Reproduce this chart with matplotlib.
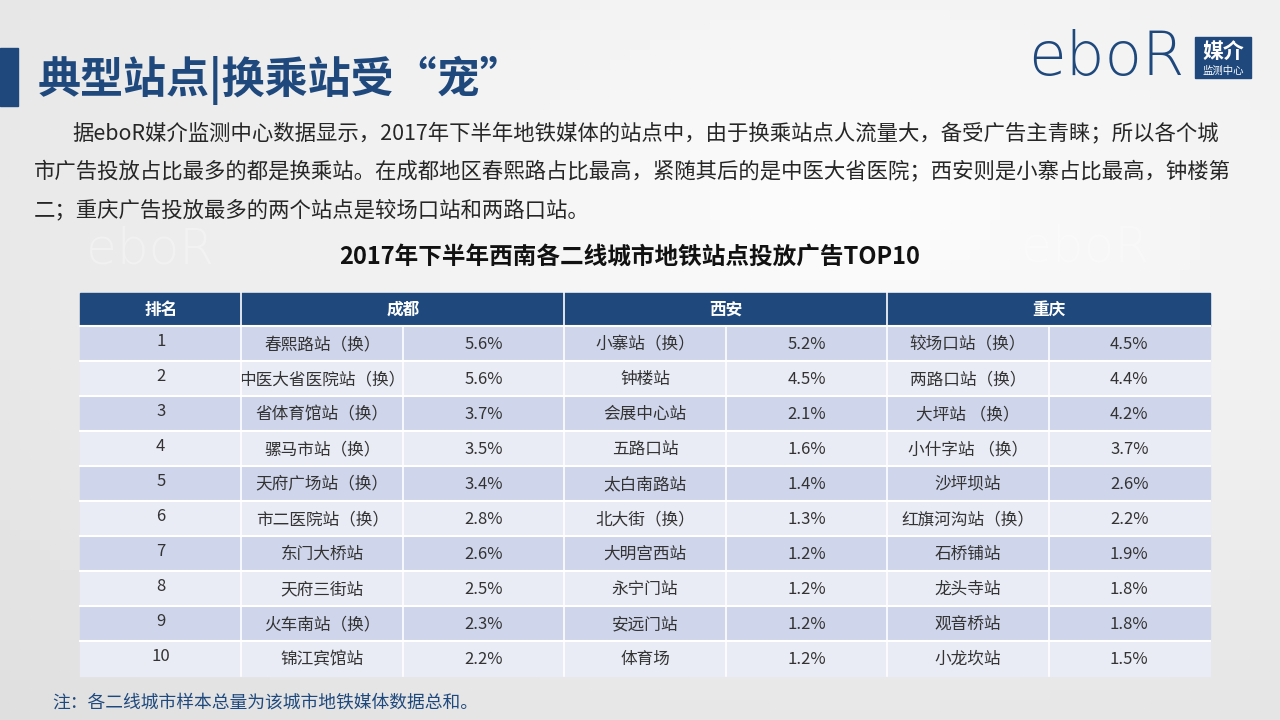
import numpy as np
import matplotlib
matplotlib.use('Agg')
import matplotlib.pyplot as plt
from matplotlib.patches import Rectangle

plt.rcParams['font.family'] = ['Noto Sans CJK SC', 'DejaVu Sans']

# 数据
title = '典型站点|换乘站受“宠”'
paragraph = [
    '据eboR媒介监测中心数据显示，2017年下半年地铁媒体的站点中，由于换乘站点人流量大，备受广告主青睐；所以各个城',
    '市广告投放占比最多的都是换乘站。在成都地区春熙路占比最高，紧随其后的是中医大省医院；西安则是小寨占比最高，钟楼第',
    '二；重庆广告投放最多的两个站点是较场口站和两路口站。',
]
table_title = '2017年下半年西南各二线城市地铁站点投放广告TOP10'
cities = ['成都', '西安', '重庆']
ranks = ['1', '2', '3', '4', '5', '6', '7', '8', '9', '10']
chengdu_stations = ['春熙路站（换）', '中医大省医院站（换）', '省体育馆站（换）', '骡马市站（换）', '天府广场站（换）',
                    '市二医院站（换）', '东门大桥站', '天府三街站', '火车南站（换）', '锦江宾馆站']
chengdu_share = [5.6, 5.6, 3.7, 3.5, 3.4, 2.8, 2.6, 2.5, 2.3, 2.2]
xian_stations = ['小寨站（换）', '钟楼站', '会展中心站', '五路口站', '太白南路站',
                 '北大街（换）', '大明宫西站', '永宁门站', '安远门站', '体育场']
xian_share = [5.2, 4.5, 2.1, 1.6, 1.4, 1.3, 1.2, 1.2, 1.2, 1.2]
chongqing_stations = ['较场口站（换）', '两路口站（换）', '大坪站 （换）', '小什字站 （换）', '沙坪坝站',
                      '红旗河沟站（换）', '石桥铺站', '龙头寺站', '观音桥站', '小龙坎站']
chongqing_share = [4.5, 4.4, 4.2, 3.7, 2.6, 2.2, 1.9, 1.8, 1.8, 1.5]
note = '注：各二线城市样本总量为该城市地铁媒体数据总和。'

NAVY = '#1F497D'
ROW_DARK = '#CFD5EA'
ROW_LIGHT = '#E9EBF5'
TEXT = '#333333'

fig = plt.figure(figsize=(12.8, 7.2), dpi=100)
ax = fig.add_axes([0, 0, 1, 1])
ax.set_xlim(0, 1280)
ax.set_ylim(720, 0)
ax.axis('off')

# 背景渐变
yy, xx = np.mgrid[0:72, 0:128]
d = np.sqrt(((xx - 85) / 128.0) ** 2 + ((yy - 20) / 72.0) ** 2)
bg = 0.99 - 0.12 * np.clip(d, 0, 1)
ax.imshow(bg, cmap='gray', vmin=0, vmax=1, extent=(0, 1280, 720, 0), aspect='auto', zorder=0)

# 水印（很淡）
for wx, wy in [(150, 250), (1085, 248)]:
    ax.text(wx, wy, 'eboR', fontsize=36, color='#FFFFFF', alpha=0.3, ha='center', va='center',
            family='DejaVu Sans', fontweight='light', zorder=1)

# 标题
ax.add_patch(Rectangle((0, 48), 18, 58, color=NAVY, zorder=2))
ax.text(38, 80, title, fontsize=31, fontweight='bold', color=NAVY, va='center', ha='left', zorder=3)

# logo
ax.text(1028, 58, 'eboR', fontsize=44, color=NAVY, va='center', ha='left',
        family='DejaVu Sans', fontweight='light', zorder=3)
ax.add_patch(Rectangle((1195, 37), 56, 41, color=NAVY, zorder=2))
ax.text(1223, 51, '媒介', fontsize=15, color='white', fontweight='bold', ha='center', va='center', zorder=3)
ax.text(1223, 71, '监测中心', fontsize=7.5, color='white', ha='center', va='center', zorder=3)

# 正文
para_y = [133, 171, 210]
ax.text(72, para_y[0], paragraph[0], fontsize=15.4, color='#262626', va='center', ha='left', zorder=3)
for line, py in zip(paragraph[1:], para_y[1:]):
    ax.text(34, py, line, fontsize=15.4, color='#262626', va='center', ha='left', zorder=3)

# 表格标题
ax.text(630, 257, table_title, fontsize=17, fontweight='bold', color='#111111', ha='center', va='center', zorder=3)

# 表格
x0, x1 = 80, 1210
col_w = (x1 - x0) / 7
header_top, header_h = 293, 33
row_h = 35
col_x = [x0 + i * col_w for i in range(8)]

ax.add_patch(Rectangle((x0, header_top), x1 - x0, header_h, color=NAVY, zorder=2))
ax.text((col_x[0] + col_x[1]) / 2, header_top + header_h / 2, '排名', fontsize=12, fontweight='bold',
        color='white', ha='center', va='center', zorder=3)
for i, city in enumerate(cities):
    cx = (col_x[1 + 2 * i] + col_x[3 + 2 * i]) / 2
    ax.text(cx, header_top + header_h / 2, city, fontsize=12, fontweight='bold',
            color='white', ha='center', va='center', zorder=3)
    ax.plot([col_x[1 + 2 * i]] * 2, [header_top, header_top + header_h], color='white', lw=1.2, zorder=3)

body_top = header_top + header_h
stations = [chengdu_stations, xian_stations, chongqing_stations]
shares = [chengdu_share, xian_share, chongqing_share]
for r, rank in enumerate(ranks):
    ry = body_top + r * row_h
    ax.add_patch(Rectangle((x0, ry), x1 - x0, row_h, color=ROW_DARK if r % 2 == 0 else ROW_LIGHT, zorder=2))
    cy = ry + row_h / 2 + 1
    ax.text((col_x[0] + col_x[1]) / 2, cy - 3, rank, fontsize=12, color=TEXT,
            ha='center', va='center', zorder=3)
    for c in range(3):
        ax.text((col_x[1 + 2 * c] + col_x[2 + 2 * c]) / 2, cy, stations[c][r], fontsize=12,
                color=TEXT, ha='center', va='center', zorder=3)
        ax.text((col_x[2 + 2 * c] + col_x[3 + 2 * c]) / 2, cy, f'{shares[c][r]:.1f}%', fontsize=12,
                color=TEXT, ha='center', va='center', zorder=3)
    ax.plot([x0, x1], [ry, ry], color='white', lw=1.5, zorder=3)

body_bottom = body_top + len(ranks) * row_h
for cxl in col_x[1:-1]:
    ax.plot([cxl, cxl], [body_top, body_bottom], color='white', lw=1.2, zorder=3)

# 注释
ax.text(52, 703, note, fontsize=12.8, color=NAVY, ha='left', va='center', zorder=3)

fig.savefig('out.png', dpi=100)
plt.close(fig)
